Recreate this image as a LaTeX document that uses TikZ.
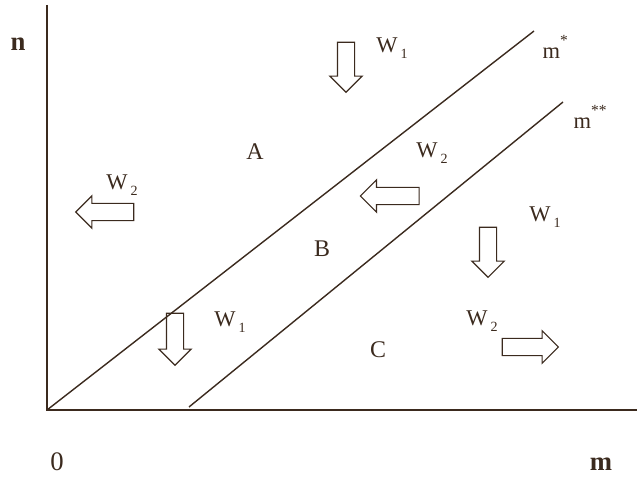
\documentclass[tikz,border=0pt]{standalone}
\usepackage{fontspec}
\setmainfont{Liberation Serif}
\usetikzlibrary{shapes.arrows}
\definecolor{ink}{HTML}{3B2A1E}

\newcommand{\wsub}[1]{W\kern2pt\raisebox{-0.6ex}{\fontsize{10}{10}\selectfont #1}}
\newcommand{\msup}[1]{m\raisebox{1.2ex}{\fontsize{11}{11}\selectfont #1}}

\begin{document}
\begin{tikzpicture}[
  x=0.025cm,
  y=0.025cm,
  axisline/.style={draw=ink,line width=1.1pt},
  boundline/.style={draw=ink,line width=1pt},
  textlabel/.style={text=ink,font=\fontsize{16}{18}\selectfont,inner sep=1pt},
  regionlabel/.style={text=ink,font=\fontsize{17}{19}\selectfont,inner sep=1pt},
  axislabel/.style={text=ink,font=\fontsize{19}{21}\selectfont\bfseries,inner sep=1pt},
  forcearrow/.style={
    single arrow,
    draw=ink,
    line width=0.8pt,
    inner xsep=0pt,
    inner ysep=0.2cm,
    single arrow head extend=0.19cm,
    single arrow tip angle=90
  }
]
\useasboundingbox (0,0) rectangle (637,481);

% axes
\coordinate (origin) at (47,71);
\coordinate (ntop) at (47,476);
\coordinate (mend) at (637,71);
\draw[axisline] (ntop) -- (origin) -- (mend);

\node[axislabel] (nlab) at (18,437) {n};
\node[regionlabel,font=\fontsize{19}{21}\selectfont] (zero) at (57,19) {0};
\node[axislabel] (mlab) at (601,17) {m};

% boundaries
\coordinate (sonetop) at (534,450);
\coordinate (stwobot) at (189,74);
\coordinate (stwotop) at (563,379);
\draw[boundline] (origin) -- (sonetop);
\draw[boundline] (stwobot) -- (stwotop);

\node[textlabel,anchor=west] (mstar) at (541,434) {\msup{*}};
\node[textlabel,anchor=west] (mstarstar) at (572,364) {\msup{**}};

% regions
\node[regionlabel] (rega) at (255,329) {A};
\node[regionlabel] (regb) at (322,232) {B};
\node[regionlabel] (regc) at (378,131) {C};

% movements
\node[forcearrow,minimum height=1.25cm,rotate=-90] (downa) at (346,418) {};
\node[textlabel] (wa) at (392,433) {\wsub{1}};

\node[forcearrow,minimum height=1.45cm,rotate=180] (lefta) at (109,269) {};
\node[textlabel] (wb) at (122,296) {\wsub{2}};

\node[forcearrow,minimum height=1.47cm,rotate=180] (leftb) at (394,285) {};
\node[textlabel] (wc) at (432,328) {\wsub{2}};

\node[forcearrow,minimum height=1.3cm,rotate=-90] (downb) at (175,146) {};
\node[textlabel] (wd) at (230,159) {\wsub{1}};

\node[forcearrow,minimum height=1.25cm,rotate=-90] (downc) at (488,233) {};
\node[textlabel] (we) at (545,264) {\wsub{1}};

\node[forcearrow,minimum height=1.4cm] (righta) at (526,134) {};
\node[textlabel] (wf) at (482,160) {\wsub{2}};

\end{tikzpicture}
\end{document}
